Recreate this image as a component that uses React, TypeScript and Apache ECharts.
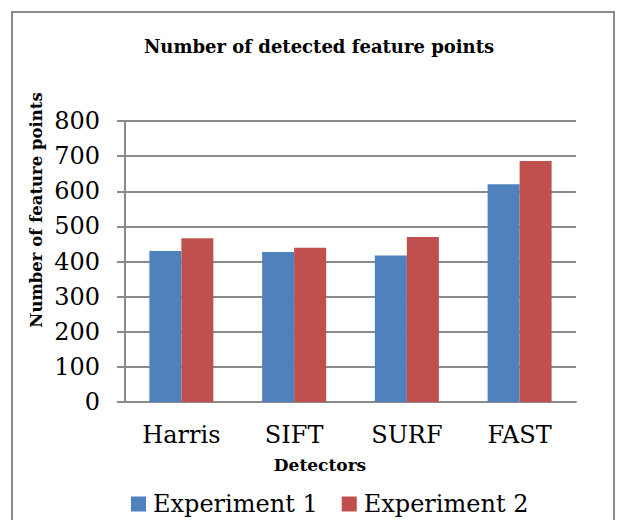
import React, { useEffect, useRef } from "react";
import * as echarts from "echarts";

const categories = ["Harris", "SIFT", "SURF", "FAST"];
const experiment1 = [430, 427, 417, 620];
const experiment2 = [466, 439, 470, 686];
const seriesNames = ["Experiment 1", "Experiment 2"];
const yTicks = { min: 0, max: 800, interval: 100 };

const FONT = "'DejaVu Serif', serif";

export default function App() {
  const ref = useRef<HTMLDivElement>(null);
  useEffect(() => {
    if (!ref.current) return;
    const chart = echarts.init(ref.current, null, { renderer: "svg" });
    chart.setOption({
      animation: false,
      backgroundColor: "#ffffff",
      grid: { left: 125, right: 51, top: 121, bottom: 118, containLabel: false },
      legend: {
        data: seriesNames,
        top: 487,
        left: 126,
        icon: "rect",
        itemWidth: 15,
        itemHeight: 15,
        itemGap: 24,
        textStyle: { fontFamily: FONT, fontSize: 24, color: "#000", padding: [0, 0, 0, 2] },
      },
      xAxis: {
        type: "category",
        data: categories,
        axisLine: { lineStyle: { color: "#8a8a8a", width: 2 } },
        axisTick: { show: false },
        axisLabel: { fontFamily: FONT, fontSize: 24, color: "#000", margin: 21 },
      },
      yAxis: {
        type: "value",
        min: yTicks.min,
        max: yTicks.max,
        interval: yTicks.interval,
        axisLine: { show: true, lineStyle: { color: "#8a8a8a", width: 2 } },
        axisTick: { show: true, length: 8, lineStyle: { color: "#8a8a8a", width: 2 } },
        splitLine: { lineStyle: { color: "#8a8a8a", width: 2 } },
        axisLabel: { fontFamily: FONT, fontSize: 24, color: "#000", margin: 25 },
      },
      series: [
        {
          name: seriesNames[0],
          type: "bar",
          data: experiment1,
          barWidth: 32,
          barGap: "0%",
          itemStyle: { color: "#4F81BD" },
        },
        {
          name: seriesNames[1],
          type: "bar",
          data: experiment2,
          barWidth: 32,
          barGap: "0%",
          itemStyle: { color: "#C0504D" },
        },
      ],
      graphic: [
        {
          type: "rect",
          shape: { x: 12, y: 12, width: 602, height: 520 },
          style: { fill: "none", stroke: "#8a8a8a", lineWidth: 2 },
          silent: true,
        },
        {
          type: "text",
          x: 319,
          y: 46,
          style: {
            text: "Number of detected feature points",
            fontFamily: FONT,
            fontSize: 18,
            fontWeight: "bold",
            fill: "#000",
            align: "center",
            verticalAlign: "middle",
          },
        },
        {
          type: "text",
          x: 36,
          y: 210,
          rotation: Math.PI / 2,
          style: {
            text: "Number of feature points",
            fontFamily: FONT,
            fontSize: 16.5,
            fontWeight: "bold",
            fill: "#000",
            align: "center",
            verticalAlign: "middle",
          },
        },
        {
          type: "text",
          x: 320,
          y: 465,
          style: {
            text: "Detectors",
            fontFamily: FONT,
            fontSize: 17,
            fontWeight: "bold",
            fill: "#000",
            align: "center",
            verticalAlign: "middle",
          },
        },
      ],
    });
    return () => chart.dispose();
  }, []);
  return (
    <div
      ref={ref}
      style={{ position: "absolute", left: 0, top: 0, width: 627, height: 520 }}
    />
  );
}
